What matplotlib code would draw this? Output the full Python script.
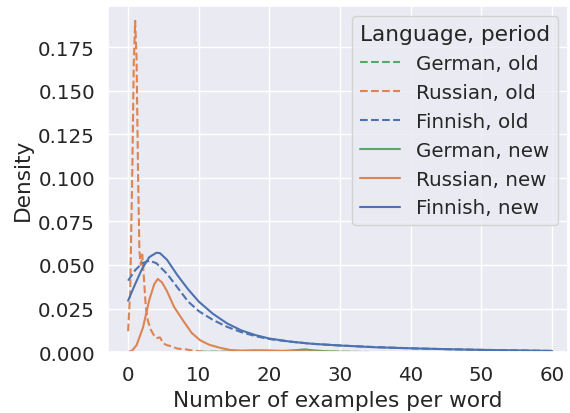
import matplotlib
matplotlib.use("Agg")
import matplotlib.pyplot as plt
import seaborn as sns

sns.set_theme(style="darkgrid", font_scale=1.3)

# Finnish, new (solid)
fin_new_x = [0, 1, 2, 3, 4, 4.5, 5.5, 7, 8.5, 10, 12, 14, 16, 18, 20, 23, 26, 30, 35, 40, 45, 50, 55, 60]
fin_new_y = [0.0295, 0.039, 0.048, 0.0545, 0.057, 0.0568, 0.053, 0.044, 0.036, 0.029, 0.022, 0.0165, 0.0125, 0.0098, 0.0078, 0.006, 0.0048, 0.0038, 0.0028, 0.0022, 0.0017, 0.0013, 0.0010, 0.0007]

# Finnish, old (dashed)
fin_old_x = [0, 1, 2, 3, 4, 5.5, 7, 8.5, 10, 12, 14, 16, 18, 20, 23, 26, 30, 35, 40, 45, 50, 55, 60]
fin_old_y = [0.041, 0.047, 0.051, 0.0525, 0.051, 0.045, 0.037, 0.029, 0.0235, 0.0185, 0.0145, 0.0115, 0.0092, 0.0075, 0.006, 0.0048, 0.0038, 0.0029, 0.0022, 0.0017, 0.0013, 0.0010, 0.0007]

# Russian, new (solid)
rus_new_x = [0, 0.6, 1.2, 2.1, 3, 3.7, 4.2, 4.8, 5.5, 6.5, 7.8, 9, 10.2, 11.5, 13, 14.5, 16, 18, 20, 22, 25, 28, 31, 34]
rus_new_y = [0.0, 0.001, 0.004, 0.014, 0.030, 0.039, 0.042, 0.040, 0.035, 0.026, 0.018, 0.011, 0.0068, 0.0042, 0.0025, 0.0012, 0.0009, 0.0011, 0.0010, 0.0007, 0.0004, 0.0002, 0.0001, 0.0]

# Russian, old (dashed)
rus_old_x = [0, 0.3, 0.6, 0.8, 1.0, 1.2, 1.4, 1.6, 1.8, 2.0, 2.2, 2.5, 2.8, 3.2, 3.6, 4.0, 4.5, 5.0, 5.5, 6.0, 7.0, 8.0, 9.0, 10.0, 11.0, 12.0]
rus_old_y = [0.012, 0.035, 0.105, 0.165, 0.190, 0.168, 0.105, 0.058, 0.050, 0.056, 0.045, 0.026, 0.018, 0.013, 0.010, 0.008, 0.0085, 0.005, 0.004, 0.0035, 0.002, 0.0017, 0.001, 0.0005, 0.0002, 0.0]

# German, new (solid)
ger_new_x = [10, 15, 20, 22, 24, 25, 26, 28, 30, 34]
ger_new_y = [0.0001, 0.0002, 0.0004, 0.0007, 0.0012, 0.0016, 0.0011, 0.0005, 0.0002, 0.0]

# German, old (dashed)
ger_old_x = [10, 15, 20, 25, 30, 34]
ger_old_y = [0.0002, 0.0003, 0.0003, 0.0003, 0.0002, 0.0001]

colors = {"German": "#55A868", "Russian": "#DD8452", "Finnish": "#4C72B0"}

fig = plt.figure(figsize=(5.70, 4.14), dpi=100)
ax = fig.add_axes([0.19, 0.147, 0.806, 0.836])

ax.plot(ger_old_x, ger_old_y, color=colors["German"], ls="--", lw=1.5, label="German, old")
ax.plot(rus_old_x, rus_old_y, color=colors["Russian"], ls="--", lw=1.5, label="Russian, old")
ax.plot(fin_old_x, fin_old_y, color=colors["Finnish"], ls="--", lw=1.5, label="Finnish, old")
ax.plot(ger_new_x, ger_new_y, color=colors["German"], ls="-", lw=1.5, label="German, new")
ax.plot(rus_new_x, rus_new_y, color=colors["Russian"], ls="-", lw=1.5, label="Russian, new")
ax.plot(fin_new_x, fin_new_y, color=colors["Finnish"], ls="-", lw=1.5, label="Finnish, new")

ax.set_xlim(-2.8, 62.2)
ax.set_ylim(0, 0.1985)
ax.set_xticks([0, 10, 20, 30, 40, 50, 60])
ax.set_yticks([0.0, 0.025, 0.05, 0.075, 0.1, 0.125, 0.15, 0.175])
ax.yaxis.set_major_formatter(matplotlib.ticker.FormatStrFormatter("%.3f"))
ax.set_xlabel("Number of examples per word")
ax.set_ylabel("Density")
ax.legend(title="Language, period", loc="upper right")

fig.savefig("out.png", dpi=100)
